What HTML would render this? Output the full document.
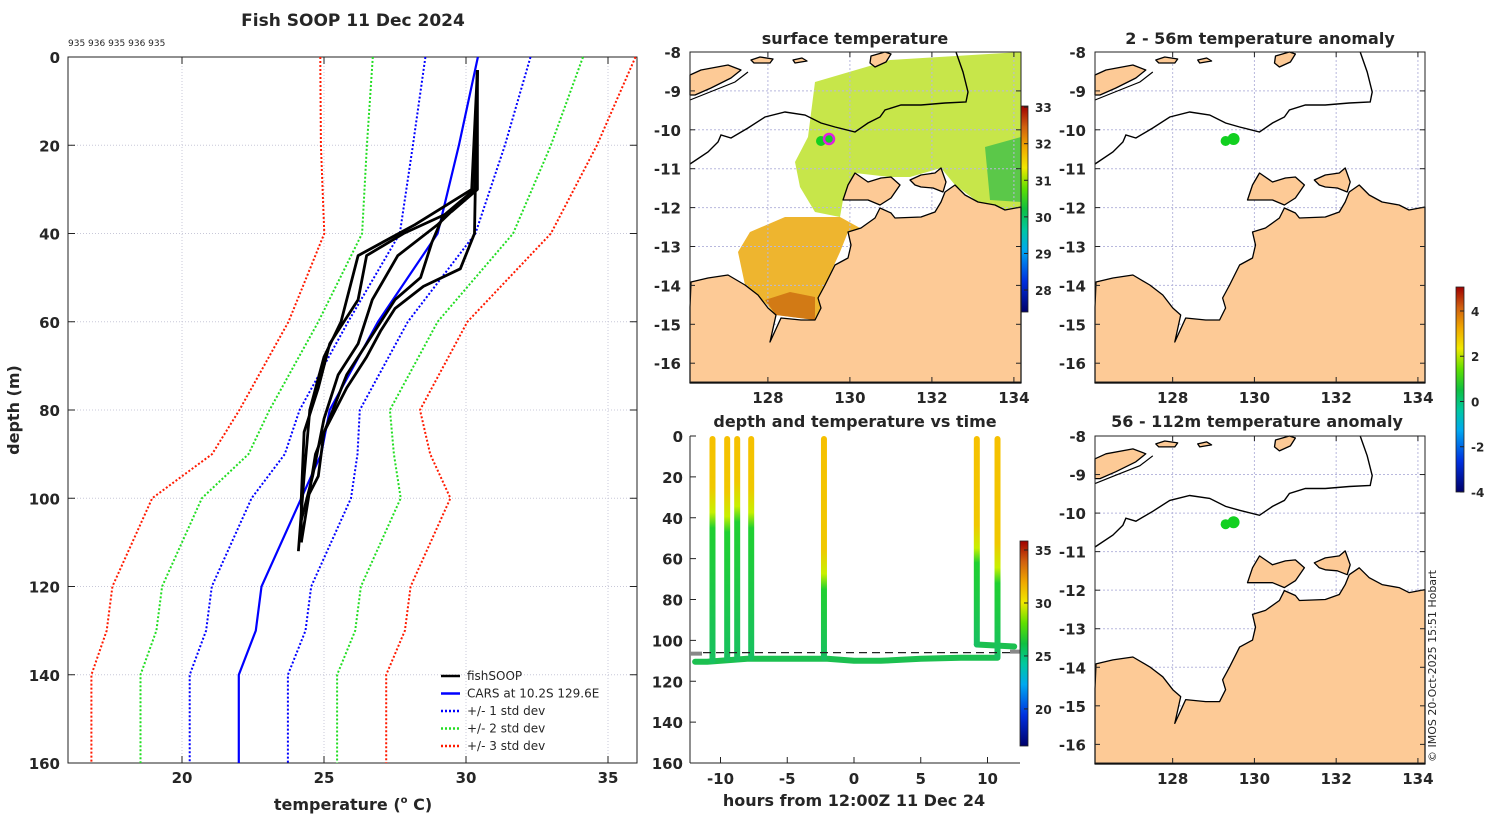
<!DOCTYPE html>
<html><head><meta charset="utf-8"><style>
body{margin:0;background:#fff;width:1500px;height:820px;overflow:hidden}
svg text{font-family:"DejaVu Sans","Liberation Sans",sans-serif;font-weight:bold;fill:#262626}
</style></head><body>
<svg id="fig" width="1500" height="820" viewBox="0 0 1500 820" xmlns="http://www.w3.org/2000/svg">
<defs>
<linearGradient id="cmap" x1="0" y1="1" x2="0" y2="0">
<stop offset="0" stop-color="#00006a"/><stop offset="0.15" stop-color="#0030e0"/><stop offset="0.3" stop-color="#00a8f0"/><stop offset="0.4" stop-color="#00c8a0"/><stop offset="0.5" stop-color="#10c040"/><stop offset="0.6" stop-color="#60e000"/><stop offset="0.7" stop-color="#f0e800"/><stop offset="0.8" stop-color="#f0a800"/><stop offset="0.9" stop-color="#d06010"/><stop offset="1" stop-color="#a00000"/>
</linearGradient>
</defs>
<g id="left"></g><g id="mid"></g><g id="maps"></g>
<text x="353" y="26" font-size="17" text-anchor="middle">Fish SOOP 11 Dec 2024</text>
<text x="68" y="46" font-size="9" style="font-weight:normal">935 936 935 936 935</text>
<text x="353" y="810" font-size="16" text-anchor="middle">temperature (<tspan font-size="10" dy="-7">o</tspan><tspan dy="7"> C)</tspan></text>
<text transform="translate(19,410) rotate(-90)" font-size="16" text-anchor="middle">depth (m)</text>
<text x="855" y="44" font-size="16" text-anchor="middle">surface temperature</text>
<text x="1260" y="44" font-size="16" text-anchor="middle">2 - 56m temperature anomaly</text>
<text x="855" y="427" font-size="16" text-anchor="middle">depth and temperature vs time</text>
<text x="1257" y="427" font-size="16" text-anchor="middle">56 - 112m temperature anomaly</text>
<text x="854" y="806" font-size="16" text-anchor="middle">hours from 12:00Z 11 Dec 24</text>
<text transform="translate(1436,762) rotate(-90)" font-size="11" style="font-weight:normal">© IMOS 20-Oct-2025 15:51 Hobart</text>
</svg>
<script>
// ---- left profile data ----
const depthNodes=[0,20,40,60,80,90,100,120,130,140,160];
const carsMean=[30.42,29.75,29.0,26.9,25.2,24.9,24.2,22.8,22.6,22.0,22.0];
const carsStd=[1.85,1.62,1.33,1.05,1.06,1.28,1.75,1.75,1.75,1.73,1.73];
const prof1D=[3,30,35,40,45,55,65,75,85,100,110];
const prof1T=[30.4,30.4,29.5,27.8,26.5,26.2,25.2,24.8,24.3,24.2,24.2];
const prof2D=[3,40,48,52,57,62,68,75,85,95,100];
const prof2T=[30.4,30.3,29.8,28.5,27.5,27.0,26.5,25.8,25.0,24.8,24.4];
const prof3D=[3,30,38,45,55,65,72,82,95,105];
const prof3T=[30.4,30.3,29.0,27.6,26.7,26.2,25.5,25.0,24.6,24.2];
const prof4D=[3,30,38,45,60,68,80,95,112];
const prof4T=[30.4,30.2,28.2,26.2,25.6,25.0,24.5,24.3,24.1];
const prof5D=[3,30,36,42,50,55,62,72,90,110];
const prof5T=[30.4,30.3,29.2,28.8,28.4,27.5,26.8,25.8,24.7,24.2];
const tempTicks=[20,25,30,35];
const depthTicks=[0,20,40,60,80,100,120,140,160];
// ---- time plot data ----
const castHours=[-10.6,-9.5,-8.75,-7.7,-2.25,9.2,10.75];
const castBottom=[110,109,109,108.5,108.5,102,108];
const castGreenDepth=[45,47,42,45,75,62,72];
const trackHours=[-11.9,-11,-10,-9,-8,-5,-2,0,2,5,8,10.75];
const trackDepth=[110.5,110.5,110,109.5,109,109,109,110,110,109,108.5,108.5];
const hourTicks=[-10,-5,0,5,10];
const tdepthTicks=[0,20,40,60,80,100,120,140,160];
const mldDepth=106;
// ---- colorbars ----
const sstTicks=[28,29,30,31,32,33];
const tTicks=[20,25,30,35];
const anomTicks=[-4,-2,0,2,4];
const lonTicks=[128,130,132,134];
const latTicks=[-8,-9,-10,-11,-12,-13,-14,-15,-16];

const NS='http://www.w3.org/2000/svg';
function mk(p,tag,a){const e=document.createElementNS(NS,tag);for(const k in a)e.setAttribute(k,a[k]);p.appendChild(e);return e;}
function tx(p,x,y,s,sz,anc){const e=mk(p,'text',{x:x,y:y,'font-size':sz,'text-anchor':anc});e.textContent=s;return e;}

// ---- LEFT PLOT ----
const L=document.getElementById('left');
const xT=t=>68.4+(t-16)*28.4, yD=d=>57+d*4.4125;
for(const t of tempTicks){const l=mk(L,'line',{x1:xT(t),x2:xT(t),y1:57,y2:763,stroke:'#c8c8d8','stroke-dasharray':'1,2'});


const tl=tx(L,xT(t),783,String(t),15,'middle');


mk(L,'line',{x1:xT(t),x2:xT(t),y1:763,y2:756,stroke:'#222'});mk(L,'line',{x1:xT(t),x2:xT(t),y1:57,y2:64,stroke:'#222'});}
for(const d of depthTicks){if(d>0&&d<160){const l=mk(L,'line',{x1:68,x2:637,y1:yD(d),y2:yD(d),stroke:'#c8c8d8','stroke-dasharray':'1,2'});

}
const tl=tx(L,60,yD(d)+6,String(d),15,'end');


mk(L,'line',{x1:68,x2:75,y1:yD(d),y2:yD(d),stroke:'#222'});mk(L,'line',{x1:637,x2:630,y1:yD(d),y2:yD(d),stroke:'#222'});}
const box=mk(L,'rect',{x:68,y:57,width:569,height:706,fill:'none',stroke:'#222'});


function pl(p,xs,ys,a,name){const pts=xs.map((x,i)=>x.toFixed(1)+','+ys[i].toFixed(1)).join(' ');const e=mk(p,'polyline',Object.assign({points:pts,fill:'none'},a));

return e;}
const sdCols=['#0000ff','#22dd22','#ff1a00'];
for(let k=1;k<=3;k++){for(const sg of [-1,1]){
pl(L,depthNodes.map((d,i)=>xT(carsMean[i]+sg*k*carsStd[i])),depthNodes.map(yD),{stroke:sdCols[k-1],'stroke-width':2,'stroke-dasharray':'2,2'},'std-dev-'+k+(sg>0?'-plus':'-minus'));}}
pl(L,carsMean.map(xT),depthNodes.map(yD),{stroke:'#0000ff','stroke-width':2.2},'cars-mean-line');
const profs=[[prof1D,prof1T],[prof2D,prof2T],[prof3D,prof3T],[prof4D,prof4T],[prof5D,prof5T]];
profs.forEach((p,i)=>pl(L,p[1].map(xT),p[0].map(yD),{stroke:'#000','stroke-width':2.8,'stroke-linejoin':'round'},'fishsoop-profile-'+(i+1)));
const legItems=[['fishSOOP','#000','none'],['CARS at 10.2S 129.6E','#0000ff','none'],['+/- 1 std dev','#0000ff','2,2'],['+/- 2 std dev','#22dd22','2,2'],['+/- 3 std dev','#ff1a00','2,2']];
legItems.forEach((it,i)=>{const y=676+i*17.5;const g=mk(L,'g',{});


mk(g,'line',{x1:441,x2:460,y1:y,y2:y,stroke:it[1],'stroke-width':2.5,'stroke-dasharray':it[2]});
const t=tx(g,467,y+4,it[0],12,'start');t.setAttribute('style','font-weight:normal');});

// ---- MIDDLE TIME PLOT ----
const M=document.getElementById('mid');
const xH=h=>854+h*13.35, yM=d=>436+d*2.04375;
for(const h of hourTicks){const tl=tx(M,xH(h),784,String(h),15,'middle');


mk(M,'line',{x1:xH(h),x2:xH(h),y1:763,y2:757,stroke:'#222'});}
for(const d of tdepthTicks){const tl=tx(M,683,yM(d)+6,String(d),15,'end');


mk(M,'line',{x1:690,x2:696,y1:yM(d),y2:yM(d),stroke:'#222'});}
mk(M,'line',{x1:690,x2:690,y1:436,y2:763,stroke:'#222'});
mk(M,'line',{x1:690,x2:1020,y1:763,y2:763,stroke:'#222'});
pl(M,trackHours.map(xH),trackDepth.map(yM),{stroke:'#1cc050','stroke-width':6,'stroke-linecap':'round','stroke-linejoin':'round'},'bottom-track');
pl(M,[xH(castHours[5]),xH(12.0)],[yM(102),yM(103)],{stroke:'#1cc050','stroke-width':6,'stroke-linecap':'round'},'bottom-track-2');
castHours.forEach((h,i)=>{const gid='cg'+i;const lg=mk(document.querySelector('defs'),'linearGradient',{id:gid,x1:0,y1:0,x2:0,y2:1,gradientUnits:'userSpaceOnUse'});
lg.setAttribute('y1',yM(0));lg.setAttribute('y2',yM(castBottom[i]));
const f=castGreenDepth[i]/castBottom[i];
mk(lg,'stop',{offset:0,'stop-color':'#f6c000'});mk(lg,'stop',{offset:Math.max(0,f-0.18),'stop-color':'#f0c800'});mk(lg,'stop',{offset:Math.max(0,f-0.07),'stop-color':'#c8f000'});mk(lg,'stop',{offset:f,'stop-color':'#20d030'});mk(lg,'stop',{offset:1,'stop-color':'#18c060'});
const c=mk(M,'line',{x1:xH(h),x2:xH(h),y1:yM(0)+3,y2:yM(castBottom[i]),stroke:'url(#'+gid+')','stroke-width':6,'stroke-linecap':'round'});

});
const ml=mk(M,'line',{x1:690,x2:1020,y1:yM(mldDepth),y2:yM(mldDepth),stroke:'#222','stroke-dasharray':'8,5','stroke-width':1.2});


mk(M,'line',{x1:690,x2:702,y1:yM(mldDepth)+1,y2:yM(mldDepth)+1,stroke:'#888','stroke-width':4});
mk(M,'line',{x1:1010,x2:1020,y1:yM(mldDepth)-1,y2:yM(mldDepth)-1,stroke:'#888','stroke-width':4});

// ---- COLORBARS ----
function cbar(x,y0,y1,vmin,vmax,ticks,name){const g=mk(M,'g',{});


mk(g,'rect',{x:x,y:y0,width:8,height:y1-y0,fill:'url(#cmap)',stroke:'#222','stroke-width':0.8});
for(const t of ticks){const y=y1-(t-vmin)/(vmax-vmin)*(y1-y0);mk(g,'line',{x1:x+8,x2:x+4,y1:y,y2:y,stroke:'#222'});tx(g,x+15,y+5,String(t),12,'start');}}
cbar(1020,106,312,27.4,33.03,sstTicks,'sst-colorbar');
cbar(1020,541,746,16.5,35.85,tTicks,'temp-colorbar');
cbar(1456,287,492,-4,5.06,anomTicks,'anomaly-colorbar');

// ---- MAPS ----
const mainland=[[0,255],[1,230],[18,226],[38,223],[55,233],[68,243],[78,256],[86,263],[80,290],[91,266],[111,268],[125,268],[131,256],[128,246],[135,233],[145,213],[158,206],[161,193],[158,180],[171,176],[185,166],[190,156],[201,161],[205,166],[231,165],[245,160],[251,150],[255,140],[265,133],[275,143],[288,150],[305,153],[315,158],[331,155],[331,331],[0,331]];
const island1=[[153,148],[158,133],[165,121],[178,130],[191,126],[201,125],[210,133],[201,146],[190,153],[178,148],[161,148]];
const island2=[[220,128],[231,123],[245,121],[251,116],[256,130],[253,140],[243,136],[231,135],[225,133]];
const timor=[[0,23],[11,18],[38,13],[51,18],[41,26],[21,36],[5,43],[0,43]];
const isl3=[[61,8],[70,5],[83,7],[80,11],[64,11]];
const isl4=[[103,8],[112,6],[117,9],[105,11]];
const isl5=[[181,4],[195,0],[201,2],[196,10],[185,15],[180,11]];
const contour=[[0,112],[18,100],[28,90],[31,83],[41,86],[58,76],[75,65],[95,60],[115,63],[131,71],[145,75],[165,80],[178,71],[190,65],[195,58],[211,53],[231,53],[255,51],[276,50],[278,40],[273,20],[266,0]];
const sstGreen=[[125,30],[200,8],[331,0],[331,155],[315,158],[288,150],[265,133],[251,116],[220,125],[200,125],[165,121],[153,148],[150,165],[125,160],[110,135],[105,110],[118,85]];
const sstOrange=[[95,165],[150,165],[170,176],[158,180],[150,200],[135,233],[128,246],[131,256],[125,268],[86,263],[68,243],[55,233],[48,200],[60,180]];
const sstDark=[[75,248],[100,240],[125,245],[125,268],[86,263]];
const sstGreenPatch=[[295,95],[331,85],[331,150],[300,148]];
const pts=(a,gx,gy,sx,sy)=>a.map(p=>(gx+p[0]*sx).toFixed(1)+','+(gy+p[1]*sy).toFixed(1)).join(' ');
function drawMap(gx,gy,w,h,sst,name,latLabels,lonLabels){
const G=document.getElementById('maps');const g=mk(G,'g',{});


const sx=w/331,sy=h/330;const lonX=l=>gx+(l-126.1)*41*sx, latY=l=>gy+(-8-l)*38.9*sy;
mk(g,'rect',{x:gx,y:gy,width:w,height:h,fill:'#fff'});
if(sst){mk(g,'polygon',{points:pts(sstGreen,gx,gy,sx,sy),fill:'#bde22a',opacity:0.85});
mk(g,'polygon',{points:pts(sstGreenPatch,gx,gy,sx,sy),fill:'#40c048',opacity:0.8});
mk(g,'polygon',{points:pts(sstOrange,gx,gy,sx,sy),fill:'#eba80a',opacity:0.85});
mk(g,'polygon',{points:pts(sstDark,gx,gy,sx,sy),fill:'#cc7010',opacity:0.85});}
for(const l of lonTicks){mk(g,'line',{x1:lonX(l),x2:lonX(l),y1:gy,y2:gy+h,stroke:'#b8b8dd','stroke-dasharray':'2,2'});}
for(const l of latTicks){if(latY(l)>gy+1)mk(g,'line',{x1:gx,x2:gx+w,y1:latY(l),y2:latY(l),stroke:'#b8b8dd','stroke-dasharray':'2,2'});}
for(const poly of [mainland,island1,island2,timor,isl3,isl4,isl5]){mk(g,'polygon',{points:pts(poly,gx,gy,sx,sy),fill:'#fdca96',stroke:'#000','stroke-width':1.3,'stroke-linejoin':'round'});}
mk(g,'polyline',{points:pts(contour,gx,gy,sx,sy),fill:'none',stroke:'#000','stroke-width':1.4});
mk(g,'polyline',{points:pts([[0,48],[20,40],[45,30],[58,20]],gx,gy,sx,sy),fill:'none',stroke:'#000','stroke-width':1.2});
const dots=[[131,89],[139,87]];
dots.forEach((d,i)=>{const c=mk(g,'circle',{cx:gx+d[0]*sx,cy:gy+d[1]*sy,r:5+i,fill:'#12d020'});

});
if(sst){mk(g,'circle',{cx:gx+139*sx,cy:gy+87*sy,r:5,fill:'none',stroke:'#e020e0','stroke-width':2.5});}
mk(g,'rect',{x:gx,y:gy,width:w,height:h,fill:'none',stroke:'#222','stroke-width':1});
for(const l of lonTicks){mk(g,'line',{x1:lonX(l),x2:lonX(l),y1:gy+h,y2:gy+h-5,stroke:'#222'});mk(g,'line',{x1:lonX(l),x2:lonX(l),y1:gy,y2:gy+5,stroke:'#222'});
if(lonLabels)tx(g,lonX(l),gy+h+21,String(l),15,'middle');}
for(const l of latTicks){mk(g,'line',{x1:gx,x2:gx+5,y1:latY(l),y2:latY(l),stroke:'#222'});mk(g,'line',{x1:gx+w,x2:gx+w-5,y1:latY(l),y2:latY(l),stroke:'#222'});
if(latLabels)tx(g,gx-9,latY(l)+6,String(l),15,'end');}}
drawMap(690,52,331,330,true,'sst-map',true,true);
drawMap(1095,52,330,330,false,'anomaly-map-shallow',true,true);
drawMap(1095,436,330,327,false,'anomaly-map-deep',true,true);
</script>
</body></html>
